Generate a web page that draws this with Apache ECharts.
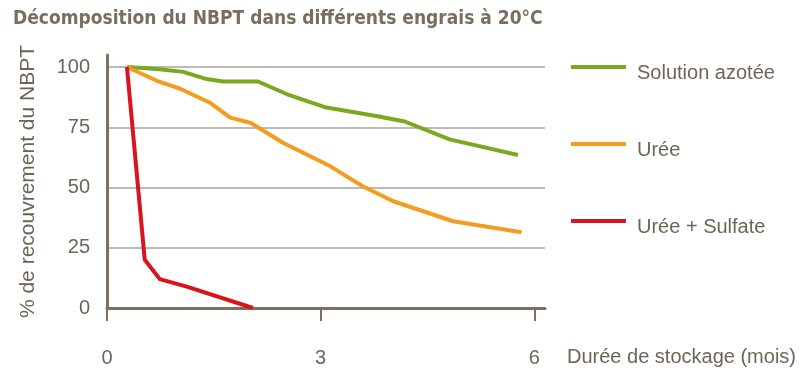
<!DOCTYPE html>
<html lang="fr">
<head>
    <meta charset="UTF-8">
    <title>Décomposition du NBPT</title>
    <style type="text/css">
        *{
            margin: 0px;
            padding: 0px;
        }
        body{
            background-color: #fff;
        }
        #chart{
            width: 808px;
            height: 377px;
        }
    </style>
</head>
<body>
<div id="chart"></div>
</body>
<script src="https://cdn.jsdelivr.net/npm/echarts@6/dist/echarts.min.js"></script>
<script type="text/javascript">
    // mois, % de recouvrement
    var solutionAzotee = [[0.28,100],[0.7,99.2],[1.07,98],[1.4,95],[1.63,94],[2.12,94],[2.52,88.8],[3.08,83.2],[3.78,79.7],[4.18,77.4],[4.81,70],[5.77,63.5]];
    var uree = [[0.28,100],[0.7,94.3],[1.02,91.1],[1.44,85.3],[1.73,79],[2.02,76.8],[2.47,68.6],[3.13,58.9],[3.59,50.5],[4.02,44.3],[4.86,36],[5.82,31.4]];
    var ureeSulfate = [[0.28,100],[0.53,20],[0.74,12],[1.12,8.9],[2.05,0]];
    var xTicks = [0, 3, 6];
    var yTicks = [0, 25, 50, 75, 100];

    var textColor = '#6e6458';
    var axisColor = '#7b7062';

    var myChart = echarts.init(document.getElementById('chart'));

    function serie(name, data, color){
        return {
            name: name,
            type: 'line',
            data: data,
            symbol: 'none',
            smooth: false,
            lineStyle: {width: 4, color: color},
            itemStyle: {color: color}
        }
    }

    var option = {
        animation: false,
        title: {
            text: 'Décomposition du NBPT dans différents engrais à 20°C',
            left: 8,
            top: 5,
            textStyle: {
                fontFamily: '"DejaVu Sans Condensed", Roboto',
                fontWeight: 'bold',
                fontSize: 19,
                color: '#7a6e5f'
            }
        },
        grid: {
            left: 107,
            right: 263,
            top: 55,
            bottom: 69
        },
        legend: {
            orient: 'vertical',
            left: 566,
            top: 58,
            icon: 'rect',
            itemWidth: 55,
            itemHeight: 4,
            itemGap: 57,
            formatter: function(name){
                return '{a|' + name + '}';
            },
            textStyle: {
                fontSize: 20,
                color: textColor,
                fontFamily: 'Liberation Sans',
                rich: {
                    a: {
                        fontSize: 20,
                        color: textColor,
                        fontFamily: 'Liberation Sans',
                        padding: [12, 0, 0, 6]
                    }
                }
            },
            data: ['Solution azotée', 'Urée', 'Urée + Sulfate']
        },
        xAxis: {
            type: 'value',
            min: 0,
            max: 6.15,
            name: '{a|Durée de stockage (mois)}',
            nameLocation: 'end',
            nameGap: 22,
            nameTextStyle: {
                align: 'left',
                verticalAlign: 'middle',
                rich: {
                    a: {
                        fontSize: 20,
                        color: textColor,
                        fontFamily: 'Liberation Sans',
                        padding: [98, 0, 0, 0]
                    }
                }
            },
            axisLine: {lineStyle: {color: axisColor, width: 3}},
            axisTick: {
                show: true,
                customValues: xTicks,
                length: 13,
                lineStyle: {color: axisColor, width: 2}
            },
            axisLabel: {
                customValues: xTicks,
                margin: 40,
                fontSize: 20,
                color: textColor,
                fontFamily: 'Liberation Sans'
            },
            splitLine: {show: false}
        },
        yAxis: {
            type: 'value',
            min: 0,
            max: 105,
            name: '% de recouvrement du NBPT',
            nameLocation: 'middle',
            nameGap: 68,
            nameTextStyle: {
                fontSize: 21,
                color: textColor,
                fontFamily: 'Liberation Sans',
                padding: [0, 0, 0, 0]
            },
            axisLine: {show: true, lineStyle: {color: axisColor, width: 3}},
            axisTick: {show: false, customValues: yTicks},
            axisLabel: {
                customValues: yTicks,
                margin: 17,
                fontSize: 20,
                color: textColor,
                fontFamily: 'Liberation Sans'
            },
            splitLine: {
                show: true,
                lineStyle: {color: '#a8a39b', width: 1.5}
            }
        },
        series: [
            serie('Solution azotée', solutionAzotee, '#7aa91f'),
            serie('Urée', uree, '#f39c1f'),
            serie('Urée + Sulfate', ureeSulfate, '#d9141f')
        ]
    };
    myChart.setOption(option);
</script>
</html>
